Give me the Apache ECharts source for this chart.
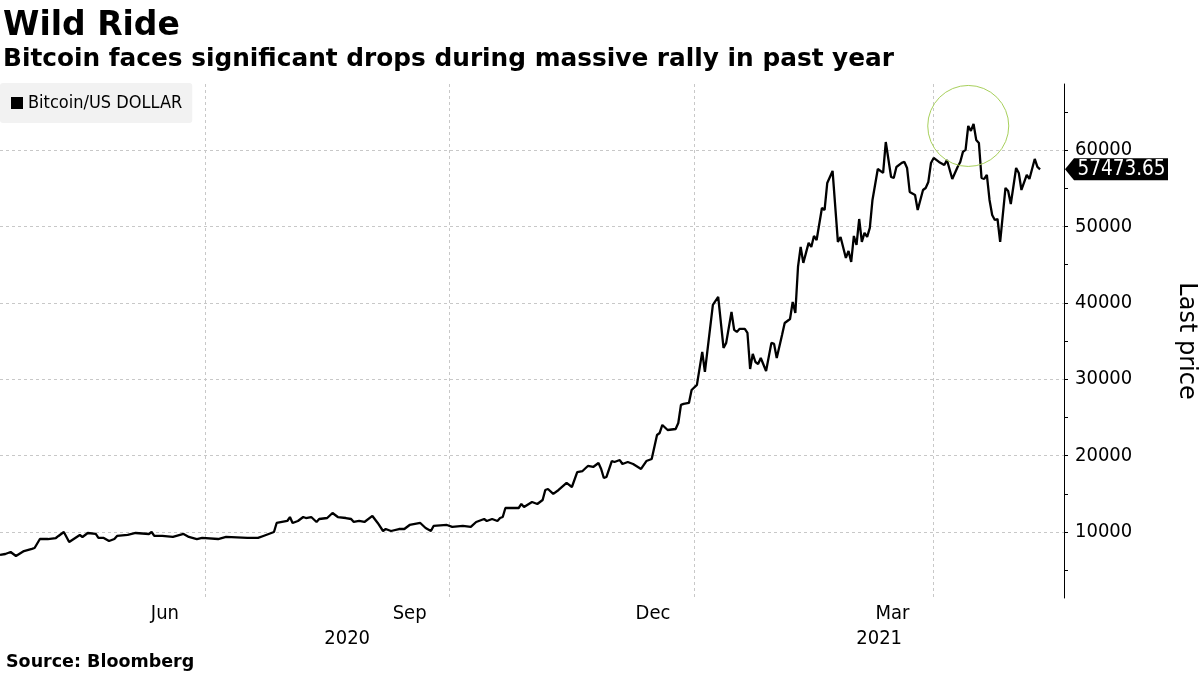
<!DOCTYPE html>
<html>
<head>
<meta charset="utf-8">
<script src="https://cdn.jsdelivr.net/npm/echarts@6/dist/echarts.min.js"></script>
<style>
html,body{margin:0;padding:0;background:#fff;}
#chart{width:1200px;height:675px;}
</style>
</head>
<body>
<div id="chart"></div>
<script>
// ---- data ----
const seriesName = 'Bitcoin/US DOLLAR';
const dates = [
'2020-04-15','2020-04-17','2020-04-19','2020-04-21','2020-04-24','2020-04-27','2020-04-28','2020-04-30',
'2020-05-03','2020-05-06','2020-05-07','2020-05-09','2020-05-11','2020-05-15','2020-05-16','2020-05-18',
'2020-05-21','2020-05-22','2020-05-24','2020-05-26','2020-05-28','2020-05-29','2020-06-02','2020-06-05',
'2020-06-10','2020-06-11','2020-06-12','2020-06-15','2020-06-19','2020-06-23','2020-06-25','2020-06-28',
'2020-06-30','2020-07-06','2020-07-09','2020-07-17','2020-07-21','2020-07-23','2020-07-27','2020-07-28',
'2020-07-30','2020-08-01','2020-08-02','2020-08-03','2020-08-05','2020-08-07','2020-08-08','2020-08-10',
'2020-08-12','2020-08-13','2020-08-16','2020-08-18','2020-08-20','2020-08-23','2020-08-25','2020-08-26',
'2020-08-28','2020-08-30','2020-09-02','2020-09-04','2020-09-06','2020-09-07','2020-09-09','2020-09-12',
'2020-09-14','2020-09-16','2020-09-20','2020-09-22','2020-09-24','2020-09-25','2020-09-30','2020-10-02',
'2020-10-06','2020-10-09','2020-10-11','2020-10-14','2020-10-15','2020-10-17','2020-10-19','2020-10-20',
'2020-10-21','2020-10-22','2020-10-24','2020-10-27','2020-10-28','2020-10-29','2020-11-01','2020-11-03',
'2020-11-05','2020-11-06','2020-11-07','2020-11-09','2020-11-11','2020-11-14','2020-11-16','2020-11-18',
'2020-11-20','2020-11-22','2020-11-24','2020-11-26','2020-11-27','2020-11-28','2020-11-29','2020-12-01',
'2020-12-02','2020-12-04','2020-12-05','2020-12-07','2020-12-09','2020-12-12','2020-12-14','2020-12-16',
'2020-12-18','2020-12-19','2020-12-20','2020-12-22','2020-12-25','2020-12-26','2020-12-27','2020-12-28',
'2020-12-30','2020-12-31','2021-01-02','2021-01-04','2021-01-05','2021-01-08','2021-01-10','2021-01-12',
'2021-01-13','2021-01-15','2021-01-16','2021-01-17','2021-01-18','2021-01-20','2021-01-21','2021-01-22',
'2021-01-23','2021-01-24','2021-01-25','2021-01-26','2021-01-28','2021-01-30','2021-01-31','2021-02-01',
'2021-02-03','2021-02-04','2021-02-06','2021-02-07','2021-02-08','2021-02-09','2021-02-10','2021-02-11',
'2021-02-12','2021-02-13','2021-02-14','2021-02-15','2021-02-16','2021-02-18','2021-02-19','2021-02-20',
'2021-02-22','2021-02-24','2021-02-25','2021-02-27','2021-02-28','2021-03-01','2021-03-02','2021-03-03',
'2021-03-04','2021-03-05','2021-03-06','2021-03-07','2021-03-08','2021-03-09','2021-03-11','2021-03-13',
'2021-03-14','2021-03-16','2021-03-17','2021-03-18','2021-03-20','2021-03-21','2021-03-22','2021-03-23',
'2021-03-25','2021-03-26','2021-03-28','2021-03-29','2021-03-30','2021-03-31','2021-04-01','2021-04-03',
'2021-04-05','2021-04-06','2021-04-08','2021-04-10','2021-04-11','2021-04-12','2021-04-13','2021-04-14',
'2021-04-15','2021-04-16','2021-04-17','2021-04-18','2021-04-19','2021-04-20','2021-04-21','2021-04-22',
'2021-04-23','2021-04-24','2021-04-25','2021-04-26','2021-04-28','2021-04-29','2021-04-30','2021-05-02',
'2021-05-03','2021-05-04','2021-05-06','2021-05-07','2021-05-09','2021-05-10','2021-05-11'
];
const prices = [
6990,7120,7380,6860,7510,7780,7900,9080,
9080,9210,9480,10000,8690,9610,9350,9870,
9740,9220,9220,8820,9080,9480,9610,9870,
9740,10000,9480,9480,9350,9740,9350,9080,
9220,9080,9350,9220,9220,9480,10000,11180,
11310,11440,11960,11180,11440,11960,11830,11960,
11310,11700,11830,12490,11960,11830,11700,11310,
11440,11310,12100,11180,10130,10390,10130,10390,
10390,10920,11180,10520,10130,10790,10920,10660,
10790,10660,11310,11700,11440,11700,11440,11830,
11960,13140,13140,13140,13670,13270,13930,13670,
14190,15500,15630,14980,15500,16420,15890,17850,
17980,18640,18510,19030,18250,17070,17200,19290,
19160,19420,18900,19160,18900,18250,19290,19560,
22700,22960,24010,23350,23480,24270,26630,26760,
26890,28590,29250,33570,30950,39720,40770,34090,
34750,38800,36450,36190,36580,36580,36050,31340,
33310,32250,31990,32780,31080,34750,34620,32780,
35790,37360,37880,40110,38670,44690,47310,45220,
46530,47840,47310,48750,48220,52410,52150,55690,
57260,47970,48620,45870,46790,45340,48750,47570,
50970,47970,49150,48620,49800,53460,57520,57000,
61050,56470,56340,57780,58310,58440,57650,54510,
54120,52150,54770,55030,55820,58310,58960,58440,
58040,58700,56210,57780,58440,59750,60010,63150,
62500,63410,61320,60930,56340,56210,56730,53460,
51500,50840,50970,47970,55030,54640,52930,57650,
57000,54770,56730,56210,58830,57780,57473.65
];
const lastPriceLabel = '57473.65';
const highlightDate = '2021-04-14';
const xRange = ['2020-04-15', '2021-05-20'];
const yRange = [1360, 68640];
const yLabelValues = [10000, 20000, 30000, 40000, 50000, 60000];
const yTickValues = [5000, 10000, 15000, 20000, 25000, 30000, 35000, 40000, 45000, 50000, 55000, 60000, 65000];
const quarterStarts = ['2020-07-01', '2020-10-01', '2021-01-01', '2021-04-01'];
const labelMonths = [['2020-06-01','2020-07-01'], ['2020-09-01','2020-10-01'], ['2020-12-01','2021-01-01'], ['2021-03-01','2021-04-01']];
const yearStart2021 = '2021-01-01';
const monthNames = ['Jan','Feb','Mar','Apr','May','Jun','Jul','Aug','Sep','Oct','Nov','Dec'];

// ---- helpers ----
const t = s => Date.parse(s + 'T00:00:00Z');
const seriesData = dates.map((d, i) => [t(d), prices[i]]);
const xMin = t(xRange[0]), xMax = t(xRange[1]);
const midMonths = labelMonths.map(p => (t(p[0]) + t(p[1])) / 2);
const jan21 = t(yearStart2021);
const yearMids = [(xMin + jan21) / 2, (jan21 + xMax) / 2];
const lastValue = prices[prices.length - 1];
const hiIdx = dates.indexOf(highlightDate);

const COND = "'DejaVu Sans Condensed', 'DejaVu Sans', sans-serif";
const REG = "'DejaVu Sans', Verdana, sans-serif";
const BOLD = "'DejaVu Sans', Verdana, sans-serif";

const chart = echarts.init(document.getElementById('chart'), null, {renderer: 'canvas'});
chart.setOption({
  animation: false,
  backgroundColor: '#fff',
  title: [
    {
      text: 'Wild Ride',
      subtext: 'Bitcoin faces significant drops during massive rally in past year',
      left: 0, top: 8, padding: [2, 3],
      itemGap: 4,
      textStyle: {fontFamily: BOLD, fontWeight: 'bold', fontSize: 33, color: '#000'},
      subtextStyle: {fontFamily: BOLD, fontWeight: 'bold', fontSize: 24.8, color: '#000'}
    },
    {
      text: 'Source: Bloomberg',
      left: 3, bottom: 2, padding: [2, 3],
      textStyle: {fontFamily: BOLD, fontWeight: 'bold', fontSize: 17.5, color: '#000'}
    }
  ],
  legend: {
    data: [seriesName],
    left: 0, top: 83,
    icon: 'rect', itemWidth: 12, itemHeight: 12, itemGap: 5,
    padding: [11, 10, 11, 11],
    backgroundColor: '#f2f2f2', borderRadius: 3,
    selectedMode: false,
    textStyle: {fontFamily: COND, fontSize: 18, color: '#000'}
  },
  grid: {left: 0, right: 136, top: 84, bottom: 77, containLabel: false, outerBoundsMode: 'none'},
  xAxis: [
    {
      type: 'value', min: xMin, max: xMax, scale: true,
      axisLine: {show: false},
      axisTick: {show: false, customValues: quarterStarts.map(t)},
      splitLine: {show: true, lineStyle: {color: '#c8c8c8', type: [3, 3], width: 1}},
      axisLabel: {
        customValues: midMonths, margin: 6, color: '#000', fontFamily: COND, fontSize: 20,
        formatter: v => monthNames[new Date(v).getUTCMonth()]
      }
    },
    {
      type: 'value', min: xMin, max: xMax, scale: true, position: 'bottom', offset: 25,
      axisLine: {show: false}, axisTick: {show: false}, splitLine: {show: false},
      axisLabel: {
        customValues: yearMids, margin: 6, color: '#000', fontFamily: COND, fontSize: 20,
        formatter: v => String(new Date(v).getUTCFullYear())
      }
    }
  ],
  yAxis: [
    {
      type: 'value', position: 'right', min: yRange[0], max: yRange[1],
      name: 'Last price', nameLocation: 'middle', nameRotate: -90, nameGap: 110,
      nameTextStyle: {fontFamily: REG, fontSize: 24, color: '#000'},
      axisLine: {show: true, lineStyle: {color: '#000', width: 1}},
      axisTick: {show: false, customValues: yLabelValues},
      splitLine: {show: true, lineStyle: {color: '#c8c8c8', type: [3, 3], width: 1}},
      axisLabel: {customValues: yLabelValues, margin: 11, color: '#000', fontFamily: COND, fontSize: 20,
                  formatter: v => String(v)}
    },
    {
      type: 'value', position: 'right', min: yRange[0], max: yRange[1],
      axisLine: {show: false},
      axisTick: {show: true, length: 4, customValues: yTickValues, lineStyle: {color: '#000'}},
      splitLine: {show: false},
      axisLabel: {show: false}
    }
  ],
  series: [{
    name: seriesName,
    type: 'line',
    data: seriesData,
    xAxisIndex: 0, yAxisIndex: 0,
    showSymbol: false, symbol: 'none',
    color: '#000',
    lineStyle: {color: '#000', width: 2.3},
    silent: true,
    markPoint: {
      silent: true,
      data: [
        {
          coord: [t(highlightDate), prices[hiIdx]],
          symbol: 'circle', symbolSize: 81,
          itemStyle: {color: 'rgba(0,0,0,0)', borderColor: '#a8d05c', borderWidth: 1},
          label: {show: false}
        },
        {
          coord: [xMax, lastValue],
          symbol: 'path://M0,11 L9,0 L103,0 L103,22 L9,22 Z',
          symbolKeepAspect: false,
          symbolSize: [103, 22], symbolOffset: [52.5, 0],
          itemStyle: {color: '#000'},
          label: {show: true, position: 'inside', offset: [5, 0], formatter: lastPriceLabel,
                  color: '#fff', fontFamily: COND, fontSize: 20.5}
        }
      ]
    }
  }]
});
</script>
</body>
</html>
